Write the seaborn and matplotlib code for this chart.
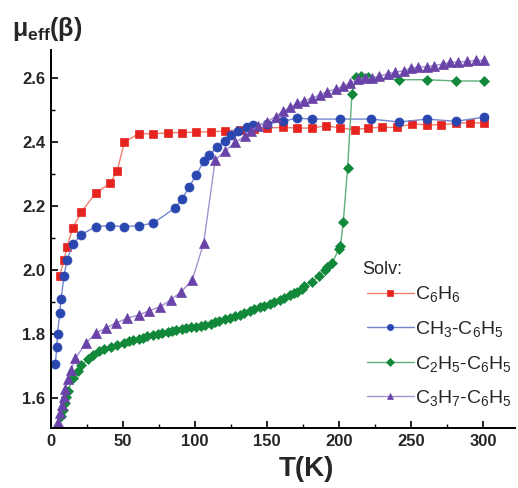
import numpy as np
import pandas as pd
import matplotlib
matplotlib.use("Agg")
import matplotlib.pyplot as plt
from matplotlib.ticker import MultipleLocator
import seaborn as sns

# Effective magnetic moment vs temperature for four solvates
T_c6h6 = [6, 9, 11, 15, 21, 31, 41, 46, 51, 61, 71, 81, 91, 101, 111, 121, 131, 141,
          150, 161, 171, 181, 191, 201, 211, 220, 230, 240, 251, 261, 271, 281, 291, 301]
mu_c6h6 = [1.98, 2.03, 2.07, 2.13, 2.18, 2.24, 2.27, 2.31, 2.40, 2.425, 2.425, 2.428,
           2.429, 2.43, 2.432, 2.433, 2.438, 2.44, 2.443, 2.445, 2.443, 2.443, 2.45,
           2.443, 2.438, 2.443, 2.445, 2.445, 2.456, 2.453, 2.453, 2.458, 2.46, 2.458]

T_ch3 = [3, 4, 4.5, 6, 7, 9, 11, 15, 21, 31, 41, 51, 61, 71, 86, 91, 96, 101, 106, 110,
         115, 121, 125, 130, 136, 140, 150, 161, 171, 181, 201, 222, 242, 261, 281, 301]
mu_ch3 = [1.705, 1.76, 1.80, 1.865, 1.91, 1.98, 2.03, 2.08, 2.11, 2.135, 2.138, 2.135,
          2.138, 2.146, 2.193, 2.221, 2.26, 2.297, 2.339, 2.359, 2.383, 2.403, 2.422,
          2.433, 2.446, 2.453, 2.456, 2.464, 2.474, 2.471, 2.471, 2.471, 2.462, 2.471,
          2.464, 2.477]

T_c2h5 = [7, 8, 9.5, 10.5, 12, 15, 19, 21, 26, 29, 33, 37, 42, 46, 51, 54, 57, 61, 64,
          67, 71, 74, 77, 81, 84, 87, 91, 94, 97, 101, 104, 107, 111, 114, 117, 121, 124,
          128, 131, 134, 138, 141, 145, 148, 152, 155, 159, 162, 166, 169, 171, 174, 176,
          181, 186, 190, 192, 195, 200, 201, 203, 206, 209, 212, 215, 220, 242, 261, 281, 301]
mu_c2h5 = [1.542, 1.5625, 1.583, 1.602, 1.623, 1.661, 1.685, 1.703, 1.72, 1.734, 1.745,
           1.752, 1.76, 1.766, 1.773, 1.777, 1.780, 1.785, 1.788, 1.792, 1.796, 1.799,
           1.802, 1.806, 1.809, 1.812, 1.815, 1.818, 1.820, 1.823, 1.826, 1.829, 1.832,
           1.836, 1.840, 1.845, 1.849, 1.855, 1.860, 1.865, 1.872, 1.877, 1.883, 1.888,
           1.894, 1.899, 1.906, 1.912, 1.920, 1.927, 1.932, 1.941, 1.950, 1.963, 1.980,
           1.998, 2.010, 2.020, 2.065, 2.073, 2.151, 2.318, 2.55, 2.602, 2.606, 2.602,
           2.594, 2.594, 2.59, 2.59]

T_c3h7 = [5, 6.5, 7.5, 9, 10, 12, 14, 17, 24, 31, 38, 45, 53, 61, 68, 76, 83, 90, 98, 106,
          114, 121, 128, 135, 139, 144, 150, 156, 161, 166, 171, 176, 181, 187, 192, 198,
          203, 208, 213, 218, 223, 228, 234, 239, 245, 250, 255, 261, 266, 272, 277, 283,
          289, 295, 301]
mu_c3h7 = [1.526, 1.554, 1.578, 1.604, 1.627, 1.658, 1.687, 1.724, 1.77, 1.802, 1.818,
           1.834, 1.849, 1.859, 1.872, 1.885, 1.906, 1.930, 1.967, 2.083, 2.342, 2.372,
           2.398, 2.419, 2.435, 2.45, 2.463, 2.479, 2.495, 2.508, 2.521, 2.529, 2.536,
           2.547, 2.557, 2.565, 2.573, 2.584, 2.596, 2.599, 2.599, 2.606, 2.612, 2.618,
           2.622, 2.63, 2.633, 2.635, 2.638, 2.643, 2.648, 2.649, 2.651, 2.654, 2.654]

labels = ["C$_6$H$_6$", "CH$_3$-C$_6$H$_5$", "C$_2$H$_5$-C$_6$H$_5$", "C$_3$H$_7$-C$_6$H$_5$"]
x_ticks = [0, 50, 100, 150, 200, 250, 300]
y_ticks = [1.6, 1.8, 2.0, 2.2, 2.4, 2.6]

sns.set_theme(style="white")
plt.rcParams["font.family"] = ["Liberation Sans", "DejaVu Sans"]
plt.rcParams["mathtext.fontset"] = "custom"
plt.rcParams["mathtext.rm"] = "Liberation Sans"
plt.rcParams["mathtext.it"] = "Liberation Sans:italic"
plt.rcParams["mathtext.bf"] = "Liberation Sans:bold"

fig = plt.figure(figsize=(5.18, 4.88), dpi=100)
ax = fig.add_axes([0.0985, 0.123, 0.895, 0.775])

series = [
    (T_c6h6, mu_c6h6, "s", "#e5231f", "#f0806e", 6.0),
    (T_ch3, mu_ch3, "o", "#2a47b0", "#7486d0", 6.5),
    (T_c2h5, mu_c2h5, "D", "#11883a", "#5faf7c", 5.0),
    (T_c3h7, mu_c3h7, "^", "#6a43a8", "#a592d2", 7.0),
]

for (tx, my, mk, mc, lc, ms), lab in zip(series, labels):
    df = pd.DataFrame({"T": tx, "mu": my})
    sns.lineplot(data=df, x="T", y="mu", ax=ax, sort=False, estimator=None,
                 color=lc, lw=1.0, marker=mk, markersize=ms,
                 markerfacecolor=mc, markeredgecolor=mc, markeredgewidth=0.5,
                 label=lab)

ax.set_xlim(0, 322)
ax.set_ylim(1.506, 2.6875)
ax.set_xticks(x_ticks)
ax.set_yticks(y_ticks)
ax.xaxis.set_minor_locator(MultipleLocator(25))
ax.yaxis.set_minor_locator(MultipleLocator(0.1))
ax.tick_params(which="major", direction="in", length=5, width=1.2, color="black",
               labelsize=12, pad=4, bottom=True, left=True)
ax.tick_params(which="minor", direction="in", length=3, width=1.0, color="black",
               bottom=True, left=True)
ax.set_xticklabels([str(v) for v in x_ticks], fontweight="bold")
ax.set_yticklabels([f"{v:.1f}" for v in y_ticks], fontweight="bold")

for side in ["top", "right"]:
    ax.spines[side].set_visible(False)
for side in ["left", "bottom"]:
    ax.spines[side].set_color("black")
    ax.spines[side].set_linewidth(1.4)

ax.set_xlabel("T(K)", fontsize=20, fontweight="bold")
ax.xaxis.set_label_coords(0.55, -0.075)
ax.set_ylabel("")
fig.text(0.024, 0.926, r"μ$_{\mathbf{eff}}$(β)", fontsize=18, fontweight="bold",
         ha="left", va="baseline")

# Legend heading drawn as its own text so the entry spacing can be set freely
ax.text(0.671, 0.418, "Solv:", transform=ax.transAxes, fontsize=13,
        ha="left", va="center")
leg = ax.legend(loc="upper left", bbox_to_anchor=(0.665, 0.40),
                frameon=False, fontsize=14, handlelength=2.4,
                handletextpad=0.05, labelspacing=0.75, borderaxespad=0.0)
for h in leg.legend_handles:
    h.set_markersize(4.5)

fig.savefig("out.png", dpi=100, facecolor="white")
